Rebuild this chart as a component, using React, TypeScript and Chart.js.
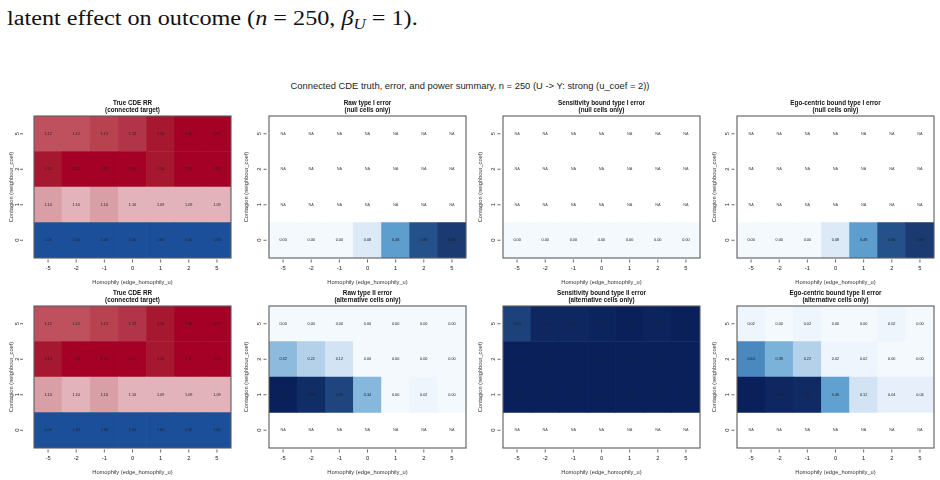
import React, { useEffect, useRef } from "react";
import { Chart, registerables } from "chart.js";

Chart.register(...registerables);

// Axis categories
const HOMOPHILY = ["-5", "-2", "-1", "0", "1", "2", "5"];
const CONTAGION = ["0", "1", "2", "5"]; // bottom row first

// Each grid is listed from contagion 0 (bottom) up to contagion 5 (top); null = NA
const TRUE_CDE_RR: (number | null)[][] = [
  [1.0, 1.0, 1.0, 1.0, 1.0, 1.0, 1.0],
  [1.102, 1.098, 1.103, 1.097, 1.092, 1.091, 1.092],
  [1.142, 1.151, 1.15, 1.148, 1.141, 1.152, 1.153],
  [1.121, 1.122, 1.127, 1.132, 1.142, 1.151, 1.152],
];

const NA_ROW: (number | null)[] = [null, null, null, null, null, null, null];

const RAW_TYPE_I: (number | null)[][] = [
  [0.0, 0.0, 0.0, 0.08, 0.48, 0.8, 0.88],
  NA_ROW,
  NA_ROW,
  NA_ROW,
];

const SENS_TYPE_I: (number | null)[][] = [
  [0.0, 0.0, 0.0, 0.0, 0.0, 0.0, 0.0],
  NA_ROW,
  NA_ROW,
  NA_ROW,
];

const EGO_TYPE_I: (number | null)[][] = [
  [0.0, 0.0, 0.0, 0.08, 0.48, 0.8, 0.88],
  NA_ROW,
  NA_ROW,
  NA_ROW,
];

const RAW_TYPE_II: (number | null)[][] = [
  NA_ROW,
  [1.0, 0.9, 0.82, 0.34, 0.0, 0.02, 0.0],
  [0.32, 0.22, 0.12, 0.0, 0.0, 0.0, 0.0],
  [0.0, 0.0, 0.0, 0.0, 0.0, 0.0, 0.0],
];

const SENS_TYPE_II: (number | null)[][] = [
  NA_ROW,
  [1.0, 1.0, 1.0, 1.0, 1.0, 1.0, 1.0],
  [1.0, 1.0, 1.0, 1.0, 1.0, 1.0, 1.0],
  [0.84, 0.96, 0.96, 0.98, 1.0, 0.98, 1.0],
];

const EGO_TYPE_II: (number | null)[][] = [
  NA_ROW,
  [1.0, 0.96, 0.92, 0.46, 0.12, 0.04, 0.04],
  [0.64, 0.38, 0.22, 0.02, 0.02, 0.0, 0.0],
  [0.02, 0.0, 0.02, 0.0, 0.0, 0.02, 0.0],
];

// Colour scales
const RR_STEPS: [number, string][] = [
  [1.0, "#1c4f9a"],
  [1.09, "#e2b3ba"],
  [1.1, "#d99fa7"],
  [1.12, "#bf505e"],
  [1.125, "#b94251"],
  [1.13, "#b23449"],
  [1.14, "#a6182f"],
  [1.145, "#a50026"],
];

const BLUE_STOPS: [number, string][] = [
  [0.0, "#f4f9fe"],
  [0.04, "#e7f0fa"],
  [0.08, "#dce9f6"],
  [0.12, "#d2e4f3"],
  [0.22, "#b3d2ea"],
  [0.33, "#88b9dc"],
  [0.38, "#7ab2da"],
  [0.47, "#5e9fd0"],
  [0.64, "#4a89c0"],
  [0.8, "#245189"],
  [0.82, "#1f457f"],
  [0.88, "#1a3a71"],
  [0.9, "#112d66"],
  [0.96, "#0e2761"],
  [1.0, "#0a205b"],
];

function hexToRgb(h: string): number[] {
  const n = parseInt(h.slice(1), 16);
  return [(n >> 16) & 255, (n >> 8) & 255, n & 255];
}

function rrColour(v: number): string {
  let c = RR_STEPS[0][1];
  for (const [t, col] of RR_STEPS) if (v >= t - 1e-9) c = col;
  return c;
}

function blueColour(v: number): string {
  if (v <= BLUE_STOPS[0][0]) return BLUE_STOPS[0][1];
  for (let i = 1; i < BLUE_STOPS.length; i++) {
    const [t1, c1] = BLUE_STOPS[i];
    if (v <= t1) {
      const [t0, c0] = BLUE_STOPS[i - 1];
      const f = (v - t0) / (t1 - t0);
      const a = hexToRgb(c0);
      const b = hexToRgb(c1);
      const m = a.map((x, k) => Math.round(x + (b[k] - x) * f));
      return `rgb(${m[0]},${m[1]},${m[2]})`;
    }
  }
  return BLUE_STOPS[BLUE_STOPS.length - 1][1];
}

const SANS = "'Liberation Sans', Arial, Helvetica, sans-serif";

// Frame, tick marks, rotated row labels and per-cell value labels
const heatDecor = {
  id: "heatDecor",
  afterDatasetsDraw(chart: any, _args: any, opts: any) {
    const { ctx, chartArea: a, scales } = chart;
    const xs = scales.x;
    const ys = scales.y;
    ctx.save();

    ctx.font = `3.8px ${SANS}`;
    ctx.textAlign = "center";
    ctx.textBaseline = "middle";
    chart.data.datasets.forEach((ds: any, i: number) => {
      const meta = chart.getDatasetMeta(i);
      meta.data.forEach((el: any, j: number) => {
        const v = ds.values[j];
        const cy = (el.y + el.base) / 2;
        ctx.fillStyle = v == null ? "#4a4a4a" : "#222";
        ctx.fillText(v == null ? "NA" : v.toFixed(2), el.x, cy);
      });
    });

    ctx.strokeStyle = "#5c5c5c";
    ctx.lineWidth = 1.1;
    ctx.strokeRect(a.left, a.top, a.right - a.left, a.bottom - a.top);

    ctx.strokeStyle = "#444";
    ctx.lineWidth = 0.8;
    HOMOPHILY.forEach((_l, j) => {
      const x = xs.getPixelForValue(j);
      ctx.beginPath();
      ctx.moveTo(x, a.bottom + 1.5);
      ctx.lineTo(x, a.bottom + 4.5);
      ctx.stroke();
    });

    ctx.fillStyle = "#222";
    ctx.font = `5.8px ${SANS}`;
    CONTAGION.forEach((lab, r) => {
      const y = ys.getPixelForValue(r + 0.5);
      ctx.beginPath();
      ctx.moveTo(a.left - opts.tickGap, y);
      ctx.lineTo(a.left - opts.tickGap - 3, y);
      ctx.stroke();
      ctx.save();
      ctx.translate(a.left - opts.labelGap, y);
      ctx.rotate(-Math.PI / 2);
      ctx.fillText(lab, 0, 0);
      ctx.restore();
    });
    ctx.restore();
  },
};

type PanelSpec = {
  title: string[];
  grid: (number | null)[][];
  kind: "rr" | "blue";
  col: number;
  row: number;
};

const BOX_LEFT = [34, 269, 503, 737];
const BOX_TOP = [116, 306];
const BOX_W = 197;
const BOX_H = 142;
const PAD_L = 34;
const PAD_R = 4;
const PAD_T = 22;
const PAD_B = 30;

const PANELS: PanelSpec[] = [
  { title: ["True CDE RR", "(connected target)"], grid: TRUE_CDE_RR, kind: "rr", col: 0, row: 0 },
  { title: ["Raw type I error", "(null cells only)"], grid: RAW_TYPE_I, kind: "blue", col: 1, row: 0 },
  { title: ["Sensitivity bound type I error", "(null cells only)"], grid: SENS_TYPE_I, kind: "blue", col: 2, row: 0 },
  { title: ["Ego-centric bound type I error", "(null cells only)"], grid: EGO_TYPE_I, kind: "blue", col: 3, row: 0 },
  { title: ["True CDE RR", "(connected target)"], grid: TRUE_CDE_RR, kind: "rr", col: 0, row: 1 },
  { title: ["Raw type II error", "(alternative cells only)"], grid: RAW_TYPE_II, kind: "blue", col: 1, row: 1 },
  { title: ["Sensitivity bound type II error", "(alternative cells only)"], grid: SENS_TYPE_II, kind: "blue", col: 2, row: 1 },
  { title: ["Ego-centric bound type II error", "(alternative cells only)"], grid: EGO_TYPE_II, kind: "blue", col: 3, row: 1 },
];

function HeatPanel({ spec }: { spec: PanelSpec }) {
  const ref = useRef<HTMLCanvasElement>(null);
  const W = PAD_L + BOX_W + PAD_R;
  const H = PAD_T + BOX_H + PAD_B;

  useEffect(() => {
    if (!ref.current) return;
    const colour = spec.kind === "rr" ? rrColour : blueColour;
    const datasets = spec.grid.map((rowVals, r) => ({
      label: CONTAGION[r],
      data: rowVals.map(() => 1),
      values: rowVals,
      backgroundColor: rowVals.map((v) => (v == null ? "rgba(255,255,255,0)" : colour(v))),
      borderWidth: 0,
      barPercentage: 1,
      categoryPercentage: 1,
    }));
    const first = spec.col === 0;
    const chart = new Chart(ref.current, {
      type: "bar",
      data: { labels: HOMOPHILY, datasets: datasets as any },
      options: {
        responsive: false,
        animation: false,
        events: [],
        layout: { padding: { left: 0, right: PAD_R, top: 0, bottom: 0 } },
        plugins: {
          legend: { display: false },
          tooltip: { enabled: false },
          title: {
            display: true,
            fullSize: false,
            text: spec.title,
            color: "#111",
            font: { family: SANS, size: 6.3, weight: "bold", lineHeight: "7.7px" },
            padding: { top: 5, bottom: 1.6 },
          },
          heatDecor: { tickGap: first ? 11 : 2.5, labelGap: first ? 17 : 9.5 },
        } as any,
        scales: {
          x: {
            type: "category",
            stacked: true,
            grid: { display: false, drawTicks: false },
            border: { display: false },
            ticks: { color: "#222", font: { family: SANS, size: 5.8 }, padding: 6.5, maxRotation: 0, autoSkip: false },
            title: {
              display: true,
              text: "Homophily (edge_homophily_u)",
              color: "#333",
              font: { family: SANS, size: 5.7 },
              padding: { top: 0, bottom: 2.1 },
            },
            afterFit: (s: any) => {
              s.height = PAD_B;
            },
          },
          y: {
            type: "linear",
            stacked: true,
            min: 0,
            max: 4,
            grid: { display: false, drawTicks: false },
            border: { display: false },
            ticks: { display: false },
            title: {
              display: true,
              text: "Contagion (neighbour_coef)",
              color: "#333",
              font: { family: SANS, size: 5.7 },
              padding: { top: 8.3, bottom: 0 },
            },
            afterFit: (s: any) => {
              s.width = PAD_L;
            },
          },
        },
      },
      plugins: [heatDecor as any],
    });
    return () => chart.destroy();
  }, [spec]);

  return (
    <div
      style={{
        position: "absolute",
        left: BOX_LEFT[spec.col] - PAD_L,
        top: BOX_TOP[spec.row] - PAD_T,
        width: W,
        height: H,
      }}
    >
      <canvas ref={ref} width={W} height={H} style={{ width: W, height: H, display: "block" }} />
    </div>
  );
}

export default function App() {
  return (
    <div
      style={{
        position: "fixed",
        left: 0,
        top: 0,
        width: 940,
        height: 480,
        background: "#fff",
        overflow: "hidden",
      }}
    >
      <div
        style={{
          position: "absolute",
          left: 7,
          top: 6,
          fontFamily: "'Liberation Serif', 'DejaVu Serif', serif",
          fontSize: 20,
          lineHeight: "24px",
          color: "#111",
          whiteSpace: "nowrap",
          transform: "scaleX(1.21)",
          transformOrigin: "0 0",
        }}
      >
        latent effect on outcome (<i>n</i> = 250, <i>β</i>
        <i style={{ fontSize: 14, position: "relative", top: 4 }}>U</i> = 1).
      </div>
      <div
        style={{
          position: "absolute",
          left: 0,
          width: 940,
          top: 80,
          lineHeight: "12px",
          textAlign: "center",
          fontFamily: SANS,
          fontSize: 9.4,
          color: "#222",
          whiteSpace: "nowrap",
        }}
      >
        Connected CDE truth, error, and power summary, n = 250 (U -&gt; Y: strong (u_coef = 2))
      </div>
      {PANELS.map((p, i) => (
        <HeatPanel key={i} spec={p} />
      ))}
    </div>
  );
}
